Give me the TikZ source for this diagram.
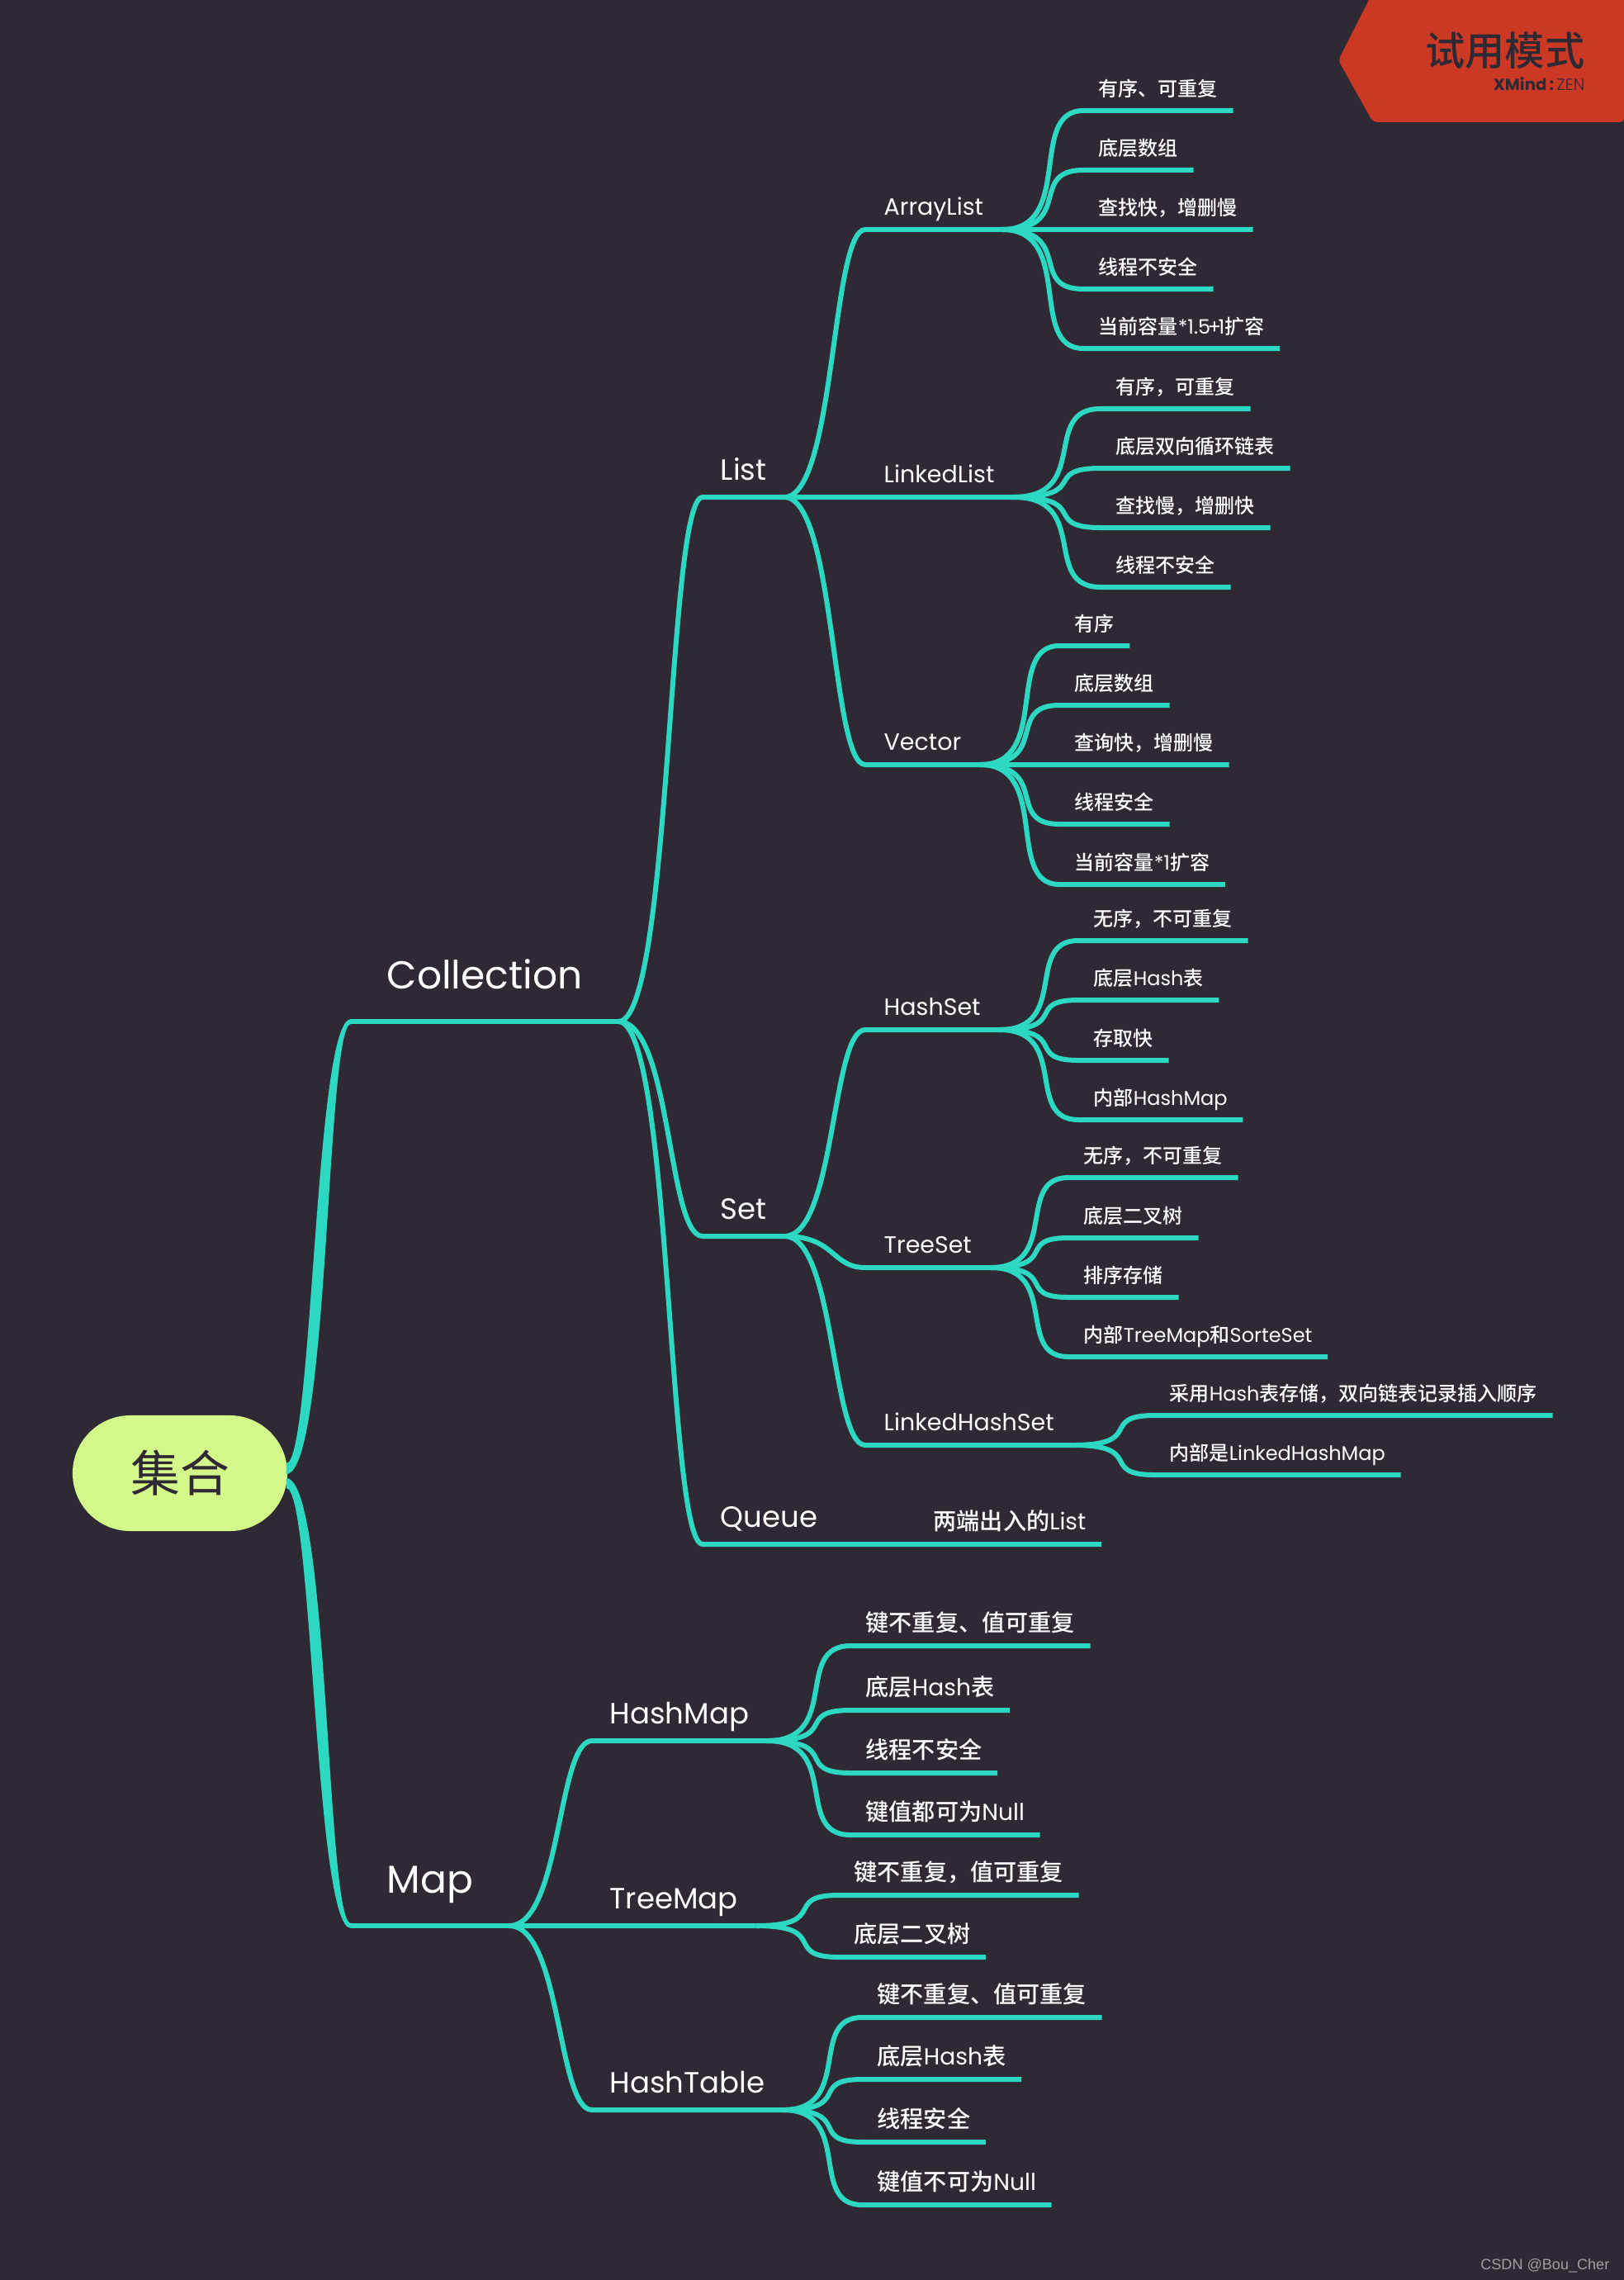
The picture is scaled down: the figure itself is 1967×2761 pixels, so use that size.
\documentclass[tikz,border=0pt]{standalone}
\usepackage{fontspec}
\usepackage{xcolor}
\setmainfont{Poppins}
\newfontfamily\cjk{Noto Sans CJK SC Medium}
\newfontfamily\cjkroot{Noto Sans CJK SC}
\newfontfamily\thinlatin{Poppins Light}
\newfontfamily\markfont{Liberation Sans}
\newcommand{\zh}[1]{{\cjk #1}}
\definecolor{bgdark}{HTML}{2F2934}
\definecolor{linkteal}{HTML}{2DD8C2}
\definecolor{rootgreen}{HTML}{D2F98A}
\definecolor{badgered}{HTML}{CB3824}
\usetikzlibrary{calc}

\begin{document}
\begin{tikzpicture}[
  x=0.01cm, y=-0.01cm,
  curve/.style 2 args = {line width=0.06cm, draw=linkteal, to path={
      .. controls ($(\tikztostart)!#1!(\tikztotarget.south west |- \tikztostart)$)
      and ($(\tikztotarget.south west)!#2!(\tikztostart |- \tikztotarget.south west)$)
      .. (\tikztotarget.south west) -- (\tikztotarget.south east)}},
  link/.style     = {curve={0.9}{0.69}},
  longlink/.style = {curve={0.63}{0.42}},
  stem/.style     = {line width=0.055cm, draw=linkteal},
  rootbox/.style  = {fill=rootgreen, rounded corners=0.7cm, minimum width=2.6cm,
                     minimum height=1.4cm, inner sep=0pt, text=bgdark,
                     font=\cjkroot\fontsize{17}{20}\selectfont},
  topic/.style    = {anchor=south west, text=white, text depth=0pt},
  lvlone/.style   = {topic, inner xsep=0.43cm, inner ysep=0.39cm,
                     font=\fontsize{13.4}{16}\selectfont},
  lvltwo/.style   = {topic, inner xsep=0.21cm, inner ysep=0.2cm,
                     font=\fontsize{10.1}{12}\selectfont},
  lvlthree/.style = {topic, inner xsep=0.22cm, inner ysep=0.165cm,
                     font=\fontsize{8.1}{10}\selectfont},
  leaf/.style     = {topic, inner xsep=0.18cm, inner ysep=0.165cm,
                     font=\fontsize{6.83}{8}\selectfont},
  bigleaf/.style  = {topic, inner xsep=0.18cm, inner ysep=0.17cm,
                     font=\fontsize{8}{10}\selectfont},
  thickfill/.style = {fill=linkteal, draw=none}
]
  \fill[bgdark] (0,0) rectangle (1967,2761);
  \useasboundingbox (0,0) rectangle (1967,2761);

  \fill[badgered, rounded corners=0.05cm] (1621,73) -- (1663,-10) -- (1972,-10)
      -- (1967,148) -- (1663,148) -- cycle;
  \node[anchor=base east, inner sep=0pt, text=bgdark, font=\fontsize{13.7}{16}\selectfont]
      (Trial) at (1920,80) {\zh{试用模式}};
  \node[anchor=base east, inner sep=0pt, text=bgdark, font=\fontsize{5.6}{7}\selectfont]
      (Brand) at (1920,110) {\textbf{XMind}\,\textbf{:}\,{\thinlatin ZEN}};
  \node[anchor=base east, inner sep=0pt, text=gray!75, font=\markfont\fontsize{5.14}{7}\selectfont]
      (Mark) at (1950,2748) {CSDN @Bou\_Cher};

  \node[rootbox]  (Root) at (218,1784) {集合};
  \node[lvlone]   (Coll) at (425,1237) {Collection};
  \node[lvlone]   (Map)  at (425,2332) {Map};

  \node[lvltwo]   (Lst)  at (851,602)  {List};
  \node[lvltwo]   (Set)  at (851,1497) {Set};
  \node[lvltwo]   (Que)  at (851,1870) {Queue};
  \node[lvltwo]   (HMap) at (717,2108) {HashMap};
  \node[lvltwo]   (TMap) at (717,2332) {TreeMap};
  \node[lvltwo]   (HTab) at (717,2555) {HashTable};

  \node[lvlthree] (ALst) at (1048,278)  {ArrayList};
  \node[lvlthree] (LLst) at (1048,602)  {LinkedList};
  \node[lvlthree] (Vec)  at (1048,926)  {Vector};
  \node[lvlthree] (HSet) at (1048,1247) {HashSet};
  \node[lvlthree] (TSet) at (1048,1535) {TreeSet};
  \node[lvlthree] (LSet) at (1048,1750) {LinkedHashSet};

  \node[leaf] (a1) at (1312,134) {\zh{有序、可重复}};
  \node[leaf] (a2) at (1312,206) {\zh{底层数组}};
  \node[leaf] (a3) at (1312,278) {\zh{查找快，增删慢}};
  \node[leaf] (a4) at (1312,350) {\zh{线程不安全}};
  \node[leaf] (a5) at (1312,422) {\zh{当前容量}*1.5\kern-1pt+\kern-1pt 1\zh{扩容}};

  \node[leaf] (l1) at (1333,495) {\zh{有序，可重复}};
  \node[leaf] (l2) at (1333,567) {\zh{底层双向循环链表}};
  \node[leaf] (l3) at (1333,639) {\zh{查找慢，增删快}};
  \node[leaf] (l4) at (1333,711) {\zh{线程不安全}};

  \node[leaf] (v1) at (1283,782)  {\zh{有序}};
  \node[leaf] (v2) at (1283,854)  {\zh{底层数组}};
  \node[leaf] (v3) at (1283,926)  {\zh{查询快，增删慢}};
  \node[leaf] (v4) at (1283,998)  {\zh{线程安全}};
  \node[leaf] (v5) at (1283,1071) {\zh{当前容量}*1\zh{扩容}};

  \node[leaf] (s1) at (1306,1139) {\zh{无序，不可重复}};
  \node[leaf] (s2) at (1306,1211) {\zh{底层}Hash\zh{表}};
  \node[leaf] (s3) at (1306,1284) {\zh{存取快}};
  \node[leaf] (s4) at (1306,1356) {\zh{内部}HashMap};

  \node[leaf] (t1) at (1294,1426) {\zh{无序，不可重复}};
  \node[leaf] (t2) at (1294,1499) {\zh{底层二叉树}};
  \node[leaf] (t3) at (1294,1571) {\zh{排序存储}};
  \node[leaf] (t4) at (1294,1643) {\zh{内部}TreeMap\zh{和}SorteSet};

  \node[leaf] (h1) at (1398,1714) {\zh{采用}Hash\zh{表存储，双向链表记录插入顺序}};
  \node[leaf] (h2) at (1398,1786) {\zh{内部是}LinkedHashMap};

  \node[bigleaf] (q1) at (1112,1870) {\zh{两端出入的}List};

  \node[bigleaf] (m1) at (1030,1993) {\zh{键不重复、值可重复}};
  \node[bigleaf] (m2) at (1030,2071) {\zh{底层}Hash\zh{表}};
  \node[bigleaf] (m3) at (1030,2147) {\zh{线程不安全}};
  \node[bigleaf] (m4) at (1030,2222) {\zh{键值都可为}Null};

  \node[bigleaf] (n1) at (1016,2295) {\zh{键不重复，值可重复}};
  \node[bigleaf] (n2) at (1016,2370) {\zh{底层二叉树}};

  \node[bigleaf] (b1) at (1044,2443) {\zh{键不重复、值可重复}};
  \node[bigleaf] (b2) at (1044,2518) {\zh{底层}Hash\zh{表}};
  \node[bigleaf] (b3) at (1044,2594) {\zh{线程安全}};
  \node[bigleaf] (b4) at (1044,2670) {\zh{键值不可为}Null};

  \fill[thickfill] ($(Root.east)+(-2,-12)$) .. controls ($(Root.east)+(30,-12)$)
      and ($(Coll.south west)+(-44,-3)$) .. ($(Coll.south west)+(0,-3)$)
      -- ($(Coll.south west)+(0,3)$) .. controls ($(Coll.south west)+(-30,3)$)
      and ($(Root.east)+(50,1)$) .. ($(Root.east)+(-2,1)$) -- cycle;
  \fill[thickfill] ($(Root.east)+(-2,6)$) .. controls ($(Root.east)+(50,6)$)
      and ($(Map.south west)+(-30,-3)$) .. ($(Map.south west)+(0,-3)$)
      -- ($(Map.south west)+(0,3)$) .. controls ($(Map.south west)+(-44,3)$)
      and ($(Root.east)+(30,18)$) .. ($(Root.east)+(-2,18)$) -- cycle;

  \draw[stem] (Coll.south west) -- (Coll.south east);
  \draw[stem] (Map.south west) -- (Map.south east);

  \draw[longlink] (Coll.south east) to (Lst);
  \draw[longlink] (Coll.south east) to (Set);
  \draw[longlink] (Coll.south east) to (Que);
  \draw[longlink] (Map.south east)  to (HMap);
  \draw[longlink] (Map.south east)  to (TMap);
  \draw[longlink] (Map.south east)  to (HTab);

  \draw[longlink] (Lst.south east) to (ALst);
  \draw[longlink] (Lst.south east) to (LLst);
  \draw[longlink] (Lst.south east) to (Vec);
  \draw[longlink] (Set.south east) to (HSet);
  \draw[longlink] (Set.south east) to (TSet);
  \draw[longlink] (Set.south east) to (LSet);

  \draw[link] (ALst.south east) to (a1);
  \draw[link] (ALst.south east) to (a2);
  \draw[link] (ALst.south east) to (a3);
  \draw[link] (ALst.south east) to (a4);
  \draw[link] (ALst.south east) to (a5);

  \draw[link] (LLst.south east) to (l1);
  \draw[link] (LLst.south east) to (l2);
  \draw[link] (LLst.south east) to (l3);
  \draw[link] (LLst.south east) to (l4);

  \draw[link] (Vec.south east) to (v1);
  \draw[link] (Vec.south east) to (v2);
  \draw[link] (Vec.south east) to (v3);
  \draw[link] (Vec.south east) to (v4);
  \draw[link] (Vec.south east) to (v5);

  \draw[link] (HSet.south east) to (s1);
  \draw[link] (HSet.south east) to (s2);
  \draw[link] (HSet.south east) to (s3);
  \draw[link] (HSet.south east) to (s4);

  \draw[link] (TSet.south east) to (t1);
  \draw[link] (TSet.south east) to (t2);
  \draw[link] (TSet.south east) to (t3);
  \draw[link] (TSet.south east) to (t4);

  \draw[link] (LSet.south east) to (h1);
  \draw[link] (LSet.south east) to (h2);

  \draw[link] (Que.south east) to (q1);

  \draw[link] (HMap.south east) to (m1);
  \draw[link] (HMap.south east) to (m2);
  \draw[link] (HMap.south east) to (m3);
  \draw[link] (HMap.south east) to (m4);

  \draw[link] (TMap.south east) to (n1);
  \draw[link] (TMap.south east) to (n2);

  \draw[link] (HTab.south east) to (b1);
  \draw[link] (HTab.south east) to (b2);
  \draw[link] (HTab.south east) to (b3);
  \draw[link] (HTab.south east) to (b4);
\end{tikzpicture}
\end{document}
